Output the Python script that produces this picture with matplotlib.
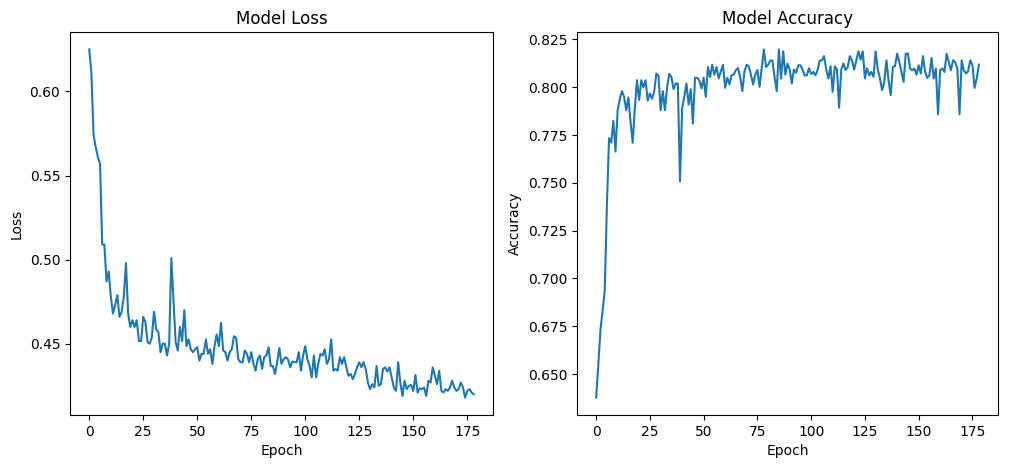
import matplotlib
matplotlib.use("Agg")
import matplotlib.pyplot as plt
import numpy as np

loss = [
    0.625, 0.611, 0.574, 0.567, 0.561, 0.557, 0.509, 0.509, 0.487, 0.493,
    0.478, 0.468, 0.473, 0.479, 0.466, 0.469, 0.478, 0.498, 0.468, 0.460,
    0.464, 0.460, 0.464, 0.4516, 0.4516, 0.466, 0.463, 0.451, 0.450, 0.454,
    0.469, 0.4585, 0.457, 0.445, 0.450, 0.450, 0.443, 0.450, 0.501, 0.476,
    0.451, 0.446, 0.460, 0.4516, 0.470, 0.4486, 0.4526, 0.4467, 0.445, 0.4467,
    0.448, 0.440, 0.444, 0.444, 0.4526, 0.444, 0.4467, 0.438, 0.4486, 0.4556,
    0.4486, 0.4625, 0.446, 0.445, 0.440, 0.445, 0.4467, 0.4545, 0.4535, 0.4408,
    0.439, 0.439, 0.446, 0.444, 0.439, 0.445, 0.438, 0.434, 0.4408, 0.443,
    0.435, 0.442, 0.443, 0.448, 0.4368, 0.4368, 0.432, 0.439, 0.4475, 0.438,
    0.4408, 0.442, 0.4408, 0.436, 0.4395, 0.439, 0.439, 0.445, 0.434, 0.443,
    0.4486, 0.4408, 0.4368, 0.430, 0.443, 0.430, 0.438, 0.444, 0.443, 0.4467,
    0.438, 0.4408, 0.4526, 0.434, 0.435, 0.434, 0.442, 0.438, 0.442, 0.436,
    0.431, 0.432, 0.429, 0.432, 0.436, 0.439, 0.436, 0.439, 0.435, 0.427,
    0.423, 0.426, 0.424, 0.4368, 0.425, 0.426, 0.435, 0.436, 0.4335, 0.436,
    0.430, 0.424, 0.422, 0.439, 0.427, 0.419, 0.428, 0.423, 0.425, 0.4255,
    0.422, 0.4315, 0.421, 0.4235, 0.423, 0.424, 0.419, 0.428, 0.427, 0.436,
    0.431, 0.426, 0.434, 0.422, 0.421, 0.423, 0.422, 0.424, 0.428, 0.424,
    0.422, 0.423, 0.427, 0.424, 0.418, 0.422, 0.423, 0.421, 0.420,
]

accuracy = [
    0.6377, 0.6547, 0.673, 0.683, 0.6936, 0.738, 0.7734, 0.771, 0.7825, 0.7664,
    0.788, 0.7937, 0.798, 0.795, 0.788, 0.7947, 0.782, 0.771, 0.789, 0.8037,
    0.7933, 0.8037, 0.800, 0.8037, 0.793, 0.7968, 0.794, 0.7977, 0.8072, 0.806,
    0.788, 0.798, 0.788, 0.800, 0.807, 0.8054, 0.799, 0.802, 0.802, 0.7508,
    0.789, 0.795, 0.802, 0.791, 0.799, 0.781, 0.805, 0.805, 0.8035, 0.7994,
    0.805, 0.795, 0.8106, 0.8053, 0.8118, 0.8065, 0.8106, 0.8046, 0.8083, 0.8118,
    0.7997, 0.805, 0.8015, 0.8063, 0.8066, 0.809, 0.810, 0.8053, 0.798, 0.8083,
    0.8118, 0.811, 0.8066, 0.8015, 0.8066, 0.809, 0.8002, 0.810, 0.8198, 0.8106,
    0.8118, 0.814, 0.814, 0.805, 0.798, 0.8198, 0.8046, 0.8188, 0.8066, 0.8124,
    0.8093, 0.802, 0.8093, 0.8076, 0.8115, 0.8115, 0.8093, 0.806, 0.8063, 0.810,
    0.807, 0.808, 0.8063, 0.809, 0.814, 0.814, 0.8163, 0.8093, 0.8046, 0.811,
    0.7976, 0.811, 0.8093, 0.7893, 0.8093, 0.8124, 0.809, 0.8105, 0.8163, 0.814,
    0.8093, 0.814, 0.8188, 0.8145, 0.8188, 0.8046, 0.810, 0.8063, 0.808, 0.8055,
    0.8188, 0.8093, 0.8046, 0.7985, 0.8028, 0.8141, 0.8037, 0.7959, 0.8106, 0.8111,
    0.8176, 0.8132, 0.8080, 0.8028, 0.8176, 0.8176, 0.8098, 0.8089, 0.8098, 0.8066,
    0.8115, 0.8072, 0.8163, 0.8080, 0.8049, 0.8063, 0.8153, 0.8046, 0.8098, 0.7858,
    0.8089, 0.8098, 0.8080, 0.8176, 0.8132, 0.8089, 0.8141, 0.8132, 0.8098, 0.7858,
    0.8141, 0.8089, 0.8072, 0.8084, 0.8141, 0.8115, 0.7997, 0.8046, 0.8118,
]

epochs_loss = np.arange(len(loss))
epochs_acc = np.arange(len(accuracy))

fig = plt.figure(figsize=(10.1, 4.7), dpi=100)
ax1 = fig.add_axes([70/1010, 1 - 415/470, 423/1010, 383/470])
ax2 = fig.add_axes([577/1010, 1 - 415/470, 421/1010, 383/470])

ax1.plot(epochs_loss, loss, color="#1f77b4")
ax1.set_title("Model Loss")
ax1.set_xlabel("Epoch")
ax1.set_ylabel("Loss")

ax2.plot(epochs_acc, accuracy, color="#1f77b4")
ax2.set_title("Model Accuracy")
ax2.set_xlabel("Epoch")
ax2.set_ylabel("Accuracy")

fig.savefig("out.png", dpi=100)
